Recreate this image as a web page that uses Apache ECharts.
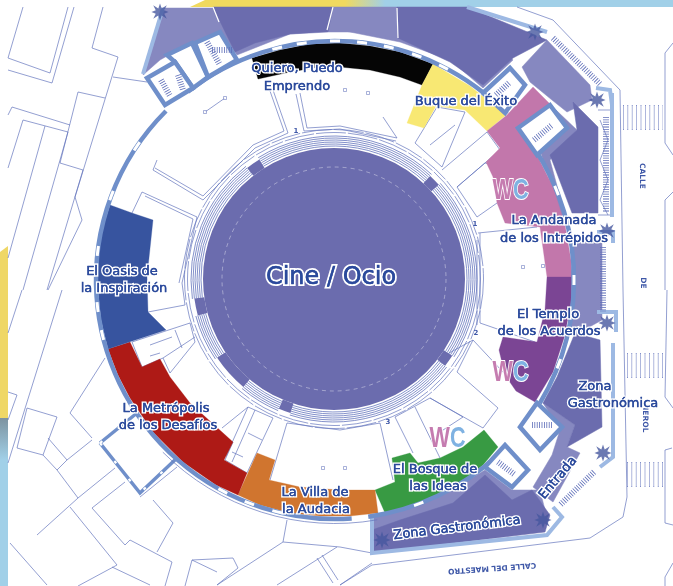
<!DOCTYPE html>
<html><head><meta charset="utf-8">
<style>html,body{margin:0;padding:0;background:#fff}#c{width:673px;height:586px}</style>
<script src="https://cdn.jsdelivr.net/npm/echarts@6/dist/echarts.min.js"></script>
</head><body><div id="c"></div>
<script>
// ---------- data (plan units = reference pixels) ----------
const planCenter=[335,280], arenaCenter=[334,279];
const zoneNames=["Quiero, Puedo Emprendo","Buque del Éxito","La Andanada de los Intrépidos","El Templo de los Acuerdos","El Bosque de las Ideas","La Villa de la Audacia","La Metrópolis de los Desafíos","El Oasis de la Inspiración"];
const zoneColors=["#050505","#f8e873","#c277ab","#7b4594","#389a43","#d0752f","#ae1a16","#37549f"];
const zoneOutlines=[
[[252,58],[280,50],[310,44],[340,43],[370,46],[400,52],[433,64],[422,85],[400,77],[370,70],[340,67],[320,67],[290,72],[258,79]],
[[433,64],[470,86],[506,115],[487,131],[465,110],[436,106],[424,128],[407,123],[422,85]],
[[533,87],[551,105],[518,128],[537,155],[553,187],[565,225],[571,260],[571,277],[547,277],[540,227],[505,223],[497,203],[493,177],[486,162],[500,148],[487,131],[507,115]],
[[547,277],[571,277],[571,300],[565,335],[553,372],[535,402],[516,391],[505,375],[499,350],[503,337],[537,342],[545,310]],
[[484,430],[498,447],[483,465],[457,485],[420,503],[398,509],[385,513],[375,490],[395,482],[392,458],[410,453],[418,463],[440,458],[463,447]],
[[375,490],[378,513],[350,516],[320,516],[290,513],[260,505],[238,495],[257,453],[275,460],[269,480],[300,487],[340,490]],
[[108,349],[130,342],[142,367],[160,359],[170,377],[190,403],[233,442],[224,460],[247,473],[238,495],[216,485],[183,462],[153,432],[130,398],[118,375]],
[[110,205],[132,213],[153,220],[147,277],[148,312],[166,330],[108,349],[101,320],[98,290],[98,260],[102,230]]
];
const textureAreas=[
[[162,8],[143,75],[160,60],[190,43],[195,44],[220,32],[237,55],[290,34],[340,30],[400,42],[450,60],[483,88],[513,60],[470,8]],
[[547,40],[590,85],[592,100],[567,112],[552,100],[530,82],[522,67]],
[[573,240],[602,240],[602,320],[575,335],[568,320]],
[[556,110],[577,130],[550,160],[565,215],[560,215],[540,150]],
[[543,403],[575,425],[567,447],[580,453],[553,502],[533,487],[552,455],[560,430]],
[[372,517],[398,510],[457,487],[485,470],[512,490],[540,490],[545,510],[372,535]],
[[333,7],[397,7],[398,38],[360,32],[328,32]]
];
const plazaAreas=[
[[213,7],[333,7],[328,32],[290,34],[255,43],[235,52]],
[[397,7],[467,7],[547,40],[513,58],[483,85],[450,62],[398,38]],
[[573,102],[598,127],[598,213],[572,213],[550,155],[577,130]],
[[575,333],[600,340],[602,427],[567,447],[575,425],[543,403],[557,377]],
[[372,530],[400,520],[453,503],[485,475],[512,500],[532,490],[550,515],[545,532],[372,553]]
];
const plazaRules=[[[213,7],[219,22]],[[333,7],[327,30]],[[397,8],[398,38]]];
const outerWalls=[
[[467,7],[547,32]],[[612,93],[612,217]],[[613,343],[613,457],[600,467]],
[[553,507],[562,517],[547,535],[372,553],[372,517]],[[163,8],[143,74]],[[596,88],[610,90],[612,105]],
[[597,232],[613,232],[613,243]],[[597,312],[616,312],[616,332]]
];
const stairBoxes=[
[[167,55],[192,43],[208,77],[193,88],[175,62]],
[[147,78],[165,105],[193,88],[175,62]],
[[195,43],[220,32],[237,60],[208,77]],
[[483,93],[510,68],[525,85],[505,113]],
[[518,128],[550,105],[567,128],[537,155]],
[[520,427],[537,403],[562,427],[540,450]],
[[485,467],[505,445],[528,470],[512,487]]
];
const hatchLines=[
[[553,38],[600,84]],[[603,247],[603,312]],[[594,472],[560,505]],[[606,117],[606,212]],
[[161,80],[170,96]],[[178,75],[183,90]],[[207,42],[220,65]],[[212,50],[232,50]],
[[496,95],[510,82]],[[534,140],[552,125]],[[532,425],[552,425]],[[498,462],[515,475]]
];
const wallSpans=[[86,225],[232,316],[322,391],[47,82]];
const windowAngles=[214,200.7,187,173.5,166.7,256,262,270,276.5,283,290,297,338,360,20.5,118,111,104,69.5];
const buildingWalls=[
[[100,443],[137,413]],[[100,443],[140,493],[177,458]]
];
const thinLines=[
[[23,7],[8,58],[50,73],[68,7]],[[8,70],[52,83],[74,7]],[[103,7],[92,48],[118,57],[75,197],[82,220],[48,290]],
[[113,77],[147,82]],[[78,92],[105,98]],[[78,92],[60,163],[83,170],[47,290]],[[8,115],[12,107],[70,125]],
[[8,168],[23,120],[68,132],[23,290]],[[45,126],[8,258]],[[62,290],[8,463]],[[22,290],[8,333]],[[8,392],[17,395],[8,420]],
[[27,408],[57,417],[43,455],[17,448],[27,408]],[[48,438],[67,460],[57,470],[43,455]],[[67,460],[92,440]],[[105,358],[70,413],[92,438]],
[[57,470],[78,498],[37,535]],[[78,498],[115,468]],[[70,507],[117,565],[78,586]],[[92,508],[125,482]],[[92,508],[125,545],[130,540],[172,562],[165,586]],
[[153,500],[173,523],[157,552]],[[112,567],[150,585]],[[10,543],[47,585]],[[192,560],[233,558],[238,568],[217,585]],[[192,560],[185,586]],
[[192,560],[217,572]],[[287,520],[283,542],[217,585]],[[283,542],[340,547],[372,553]],[[277,585],[337,547]],[[317,558],[333,583]],[[322,555],[338,580]],
[[140,497],[177,467]],[[372,565],[340,585]],[[372,565],[590,538],[623,517],[627,497],[623,290],[620,90],[553,20],[517,7]],
[[673,408],[665,397],[667,290]],[[673,43],[665,53],[665,143],[673,155]],[[673,192],[665,200],[665,290]],[[672,448],[665,450],[665,523],[673,525]],[[673,563],[665,577],[665,586]],
[[372,563],[340,585]],[[598,110],[610,110]],[[598,215],[610,215]],[[600,120],[608,140],[600,160],[608,180],[600,200],[608,215]],
[[273,90],[288,133],[255,148],[203,200],[153,170],[157,160]],[[270,91],[284,131],[253,145],[203,196],[155,168]],
[[300,93],[307,128],[340,126],[397,138],[383,117]],[[296,94],[304,131],[340,129],[396,141]],
[[132,213],[142,192],[197,217],[182,283],[185,305],[148,312]],[[145,196],[193,219],[179,283]],
[[132,342],[190,323],[195,342],[170,373],[163,358],[142,367],[132,342]],[[175,330],[182,348]],[[150,345],[172,337]],[[150,356],[160,353]],[[163,358],[195,337]],
[[222,428],[248,407],[273,418],[247,473],[225,460],[233,442]],[[248,407],[226,456]],[[255,410],[232,462]],[[248,433],[262,440]],[[232,452],[243,457]],
[[287,423],[340,430],[380,423],[393,480]],[[287,423],[270,480]],
[[395,417],[413,453]],[[415,407],[440,458]],[[395,417],[430,398],[463,417],[440,432]],[[430,398],[483,428]],[[457,372],[498,408],[483,428]],[[473,340],[517,387]],[[473,340],[457,372]],[[440,358],[473,340]],
[[415,143],[437,107],[465,112],[442,167]],[[415,143],[442,167]],[[430,145],[455,125]],[[442,170],[487,132],[500,150],[457,187]],[[457,187],[485,163]],[[485,163],[517,170]],[[457,187],[477,217],[497,203]],
[[478,233],[537,227]],[[480,233],[480,323],[535,342]],[[477,240],[477,325]],[[205,112],[225,98]]
];
const crosswalks=[[623,663,105,130],[627,663,353,378],[627,663,462,487]];
const sheets=[
{pts:[[190,7],[205,0],[345,0],[345,7]],fill:"#f0d95f"},
{pts:[[345,0],[673,0],[673,7],[345,7]],fill:"#a1d0e8"},
{pts:[[0,252],[8,246],[8,418],[0,424]],fill:"#efd766"},
{pts:[[0,424],[8,418],[8,586],[0,586]],fill:"#a1d0e8"}
];
const blendBars=[[345,0,385,7,"#f0d95f","#a1d0e8",0],[0,418,8,460,"#7d93a0","#a1d0e8",1]];
const seatSpans=[[-42,33],[38,108],[113,130],[146,165],[172,232],[238,313]];
const arenaNotches=[[33,38],[108,113],[130,146],[165,172],[232,238],[313,318]];
const seatRadii=[133,135,137,139,141,143];
const concourseRadii=[146.5,149.5];
const trees=[[535,32],[597,100],[607,231],[607,323],[603,453],[543,520],[382,540],[160,12]];
const fixtureDots=[[345,90],[368,93],[523,267],[543,266],[345,468],[323,468],[205,112],[225,98]];
const roomNumbers=["1","1","2","3"];
const roomNumberPos=[[296,131],[475,224],[476,333],[388,422]];
const labelText=["Quiero, Puedo","Emprendo","Buque del Éxito","La Andanada","de los Intrépidos","El Templo","de los Acuerdos","Zona","Gastronómica","Entrada","Zona Gastronómica","El Bosque de","las Ideas","La Villa de","la Audacia","La Metrópolis","de los Desafíos","El Oasis de","la Inspiración"];
const labelPos=[[297,69],[297,87],[466,102],[554,221],[554,239],[548,315],[549,332],[595,387],[613,404],[558,478],[457,528],[435,470],[438,487],[315,493],[316,510],[166,409],[168,426],[122,272],[124,289]];
const labelAngle=[0,0,0,0,0,0,0,0,0,50,7,0,0,0,0,0,0,0,0];
const titlePos=[331,278], titleText="Cine / Ocio";
const wcMarks=[[513,191],[513,373],[450,439]];
const streetText=["CALLE","DE","IEROL","CALLE DEL MAESTRO"];
const streetPos=[[642,176],[643,283],[645,420],[492,568]];
const streetAngle=[90,90,90,176];

// ---------- drawing ----------
const chart=echarts.init(document.getElementById('c'),null,{renderer:'canvas'});
const rad=d=>d*Math.PI/180;
function custom(name,list,draw,z){return {type:'custom',name,coordinateSystem:'cartesian2d',silent:true,animation:false,clip:false,z,
  data:list.map((_,i)=>[i]),encode:{x:0,y:0},
  renderItem:(p,api)=>draw(list[p.dataIndex],api,p.dataIndex)};}
const pts=(l,api)=>l.map(q=>api.coord(q));
const poly=(fill,stroke,lw)=>(l,api)=>({type:'polygon',shape:{points:pts(l,api)},style:{fill,stroke:stroke||fill,lineWidth:lw==null?0.5:lw}});
const line=(stroke,lw,dash)=>(l,api)=>({type:'polyline',shape:{points:pts(l,api)},style:{fill:null,stroke,lineWidth:lw,lineDash:dash||null}});
const arc=(c,r,stroke,lw,dash)=>(s,api)=>{const o=api.coord(c);return {type:'arc',shape:{cx:o[0],cy:o[1],r:api.size([r,0])[0],startAngle:rad(s[0]),endAngle:rad(s[1]),clockwise:true},style:{fill:null,stroke,lineWidth:lw,lineDash:dash||null}};};
const WALL="#6f8fca",THIN="#6475bd",DEEP="#6b6cae",TEX="#8688c0",INK="#2b4a9c",PALE="#9db9e3";
const T='"DejaVu Sans",sans-serif', WCF='bold 30px "Liberation Sans",sans-serif';
const wc=(txt,fill,align)=>(m,api)=>{const o=api.coord(m);return {type:'text',x:o[0],y:o[1],scaleX:0.72,style:{text:txt,fill,stroke:'#fff',lineWidth:2,font:WCF,align,verticalAlign:'middle'}};};
const label=(stroke,lw)=>(t,api,i)=>{const o=api.coord(labelPos[i]);return {type:'text',x:o[0],y:o[1],rotation:rad(labelAngle[i]),style:{text:t,fill:INK,stroke,lineWidth:lw,font:'13px '+T,align:'center',verticalAlign:'middle'}};};
const series=[
 custom('sheets',sheets,(s,api)=>({type:'polygon',shape:{points:pts(s.pts,api)},style:{fill:s.fill}}),1),
 custom('blend',blendBars,(b,api)=>{const a=api.coord([b[0],b[1]]),c=api.coord([b[2],b[3]]);return {type:'rect',shape:{x:a[0],y:a[1],width:c[0]-a[0],height:c[1]-a[1]},style:{fill:new echarts.graphic.LinearGradient(0,0,b[6]?0:1,b[6]?1:0,[{offset:0,color:b[4]},{offset:1,color:b[5]}])}};},2),
 custom('streets',thinLines,line(THIN,0.7),3),
 custom('crosswalkBars',crosswalks,(c,api)=>{const a=api.coord([c[0],(c[2]+c[3])/2]),b=api.coord([c[1],(c[2]+c[3])/2]);return {type:'line',shape:{x1:a[0],y1:a[1],x2:b[0],y2:b[1]},style:{stroke:THIN,lineWidth:c[3]-c[2],lineDash:[0.8,3.6]}};},3),
 custom('crosswalkFill',crosswalks,(c,api)=>{const a=api.coord([c[0],c[2]+1]),b=api.coord([c[1],c[3]-1]);return {type:'rect',shape:{x:a[0],y:a[1],width:b[0]-a[0],height:b[1]-a[1]},style:{fill:'rgba(255,255,255,0.35)'}};},3),
 custom('texture',textureAreas,poly(TEX),4),
 custom('plaza',plazaAreas,poly(DEEP),5),
 custom('plazaRules',plazaRules,line('#fff',1.2),5),
 custom('outerWalls',outerWalls,line(PALE,4),6),
 custom('buildingWalls',buildingWalls,line(WALL,3.5),6),
 custom('buildingWindows',buildingWalls,line('#fff',2.2,[3,20]),6),
 custom('arena',[[0,360]],arc(arenaCenter,65.5,DEEP,131),7),
 custom('arenaNotches',arenaNotches,arc(arenaCenter,136,DEEP,10),7),
 custom('arenaDash',[[0,360]],arc(arenaCenter,112,'rgba(255,255,255,0.55)',0.7,[4,4]),8),
 ...seatRadii.map(r=>custom('seats'+r,seatSpans,arc(arenaCenter,r,THIN,0.8),8)),
 ...concourseRadii.map(r=>custom('concourse'+r,[[0,360]],arc(arenaCenter,r,THIN,0.7,[30,2]),8)),
 custom('zones',zoneOutlines,(l,api,i)=>({type:'polygon',shape:{points:pts(l,api)},style:{fill:zoneColors[i],stroke:zoneColors[i],lineWidth:0.3}}),9),
 custom('ringOuter',[[80,135]],arc(planCenter,243.5,THIN,0.7),9),
 custom('ringWall',wallSpans,arc(planCenter,239,WALL,4.5),10),
 custom('ringWindows',windowAngles,(a,api)=>arc(planCenter,239,'#fff',3)([a-1.2,a+1.2],api),11),
 custom('stairBoxes',stairBoxes,poly('#fff',WALL,4.5),12),
 custom('hatch',hatchLines,line('#5d6db8',6,[0.8,1.6]),13),
 {type:'scatter',name:'trees',silent:true,animation:false,z:14,data:trees,symbol:'path://M10 0L12 6L18 2L15 8L20 10L15 12L18 18L12 14L10 20L8 14L2 18L5 12L0 10L5 8L2 2L8 6Z',symbolSize:17,itemStyle:{color:'#46589f'}},
 {type:'scatter',name:'fixtures',silent:true,animation:false,z:14,data:fixtureDots,symbol:'rect',symbolSize:3,itemStyle:{color:'#fff',borderColor:THIN,borderWidth:0.7}},
 custom('room numbers',roomNumbers,(t,api,i)=>{const o=api.coord(roomNumberPos[i]);return {type:'text',x:o[0],y:o[1],style:{text:t,fill:'#3f58a8',font:'bold 7px '+T,align:'center',verticalAlign:'middle'}};},15),
 custom('street labels',streetText,(t,api,i)=>{const o=api.coord(streetPos[i]);return {type:'text',x:o[0],y:o[1],rotation:rad(-streetAngle[i]),style:{text:t,fill:'#3f58a8',font:'bold 7.5px '+T,align:'center',verticalAlign:'middle'}};},15),
 custom('labels halo',labelText,label('#fff',3.2),16),
 custom('labels',labelText,label(INK,0.35),16.5),
 custom('title',[titleText],(t,api)=>{const o=api.coord(titlePos);return {type:'text',x:o[0],y:o[1],style:{text:t,fill:INK,stroke:'#fff',lineWidth:4,font:'24px '+T,align:'center',verticalAlign:'middle'}};},16),
 custom('title ink',[titleText],(t,api)=>{const o=api.coord(titlePos);return {type:'text',x:o[0],y:o[1],style:{text:t,fill:INK,stroke:INK,lineWidth:0.4,font:'24px '+T,align:'center',verticalAlign:'middle'}};},16.5),
 custom('wcW',wcMarks,wc('W','#c57cb0','right'),17),
 custom('wcC',wcMarks,wc('C','#7fb2e2','left'),17)
];
chart.setOption({animation:false,backgroundColor:'#fff',
 grid:{left:0,right:0,top:0,bottom:0},
 xAxis:{type:'value',min:0,max:673,show:false},
 yAxis:{type:'value',min:0,max:586,inverse:true,show:false},
 tooltip:{show:false},series});
</script></body></html>
